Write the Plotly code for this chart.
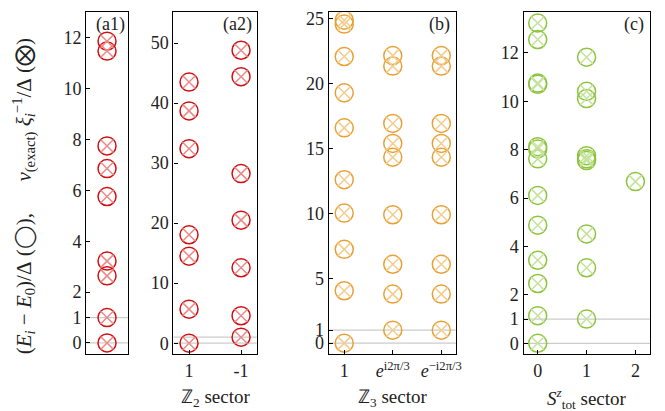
import plotly.graph_objects as go

# ---- data ----
a1_values = [0.0, 1.0, 2.64, 3.22, 5.76, 6.86, 7.75, 11.48, 11.87]

a2_sectors = ["1", "-1"]
a2_plus = [0.0, 5.67, 14.5, 18.06, 32.4, 38.7, 43.5]
a2_minus = [1.0, 4.57, 12.56, 20.5, 28.25, 44.4, 48.8]

b_sectors = ["1", "<i>e</i><sup>i2π/3</sup>", "<i>e</i><sup>−i2π/3</sup>"]
b_s0 = [0.0, 4.04, 7.23, 10.03, 12.6, 16.6, 19.3, 22.1, 24.6, 24.9]
b_s1 = [1.0, 3.78, 6.08, 9.9, 14.34, 15.4, 16.94, 21.36, 22.17]
b_s2 = [1.0, 3.78, 6.08, 9.9, 14.34, 15.4, 16.94, 21.36, 22.17]

c_sectors = ["0", "1", "2"]
c_s0 = [0.0, 1.14, 2.47, 3.43, 4.88, 6.11, 7.62, 8.03, 8.12, 10.7, 10.75, 12.55, 13.23]
c_s1 = [1.0, 3.12, 4.52, 7.55, 7.62, 7.75, 10.11, 10.41, 11.82]
c_s2 = [6.68]

RED, RED_L = "#d01010", "#ec8a8a"
ORA, ORA_L = "#e8a035", "#f3cd8c"
GRN, GRN_L = "#8cc43c", "#c4e39a"

FONT = "Liberation Serif"
W, H = 665, 411

def px_x(a, b):
    return [a / W, b / W]

YDOM = [1 - 354 / H, 1 - 9.5 / H]

fig = go.Figure()

def add_points(xaxis, yaxis, xs, ys, edge, light):
    fig.add_trace(go.Scatter(x=xs, y=ys, mode="markers", xaxis=xaxis, yaxis=yaxis,
                             marker=dict(symbol="circle-open", size=18, color=edge,
                                         line=dict(width=1.5, color=edge)),
                             showlegend=False, hoverinfo="skip"))
    fig.add_trace(go.Scatter(x=xs, y=ys, mode="markers", xaxis=xaxis, yaxis=yaxis,
                             marker=dict(symbol="x-thin-open", size=13, color=light,
                                         line=dict(width=1.5, color=light)),
                             showlegend=False, hoverinfo="skip"))

add_points("x", "y", [0] * len(a1_values), a1_values, RED, RED_L)
add_points("x2", "y2", [0] * len(a2_plus) + [1] * len(a2_minus), a2_plus + a2_minus, RED, RED_L)
add_points("x3", "y3", [0] * len(b_s0) + [1] * len(b_s1) + [2] * len(b_s2), b_s0 + b_s1 + b_s2, ORA, ORA_L)
add_points("x4", "y4", [0] * len(c_s0) + [1] * len(c_s1) + [2] * len(c_s2), c_s0 + c_s1 + c_s2, GRN, GRN_L)

tickfont = dict(family=FONT, size=18, color="#222")
common_axis = dict(showline=True, linecolor="black", linewidth=1.2, mirror=True,
                   showgrid=False, zeroline=False, ticks="inside", ticklen=4,
                   tickcolor="black", tickfont=tickfont)

doms = [px_x(87, 129), px_x(175, 259), px_x(331.7, 460), px_x(528.3, 656)]
xranges = [[-0.5, 0.5], [-0.3, 1.3], [-0.32, 2.3], [-0.29, 2.3]]
yranges = [[-0.45, 13.0], [-1.87, 55.1], [-0.87, 25.5], [-0.46, 13.67]]
yticks = [[0, 1, 2, 4, 6, 8, 10, 12], [0, 10, 20, 30, 40, 50],
          [0, 1, 5, 10, 15, 20, 25], [0, 1, 2, 4, 6, 8, 10, 12]]
xtickvals = [[], [0, 1], [0, 1, 2], [0, 1, 2]]
xticktext = [[], a2_sectors, b_sectors, c_sectors]

layout = {}
for i in range(4):
    xs = "xaxis" if i == 0 else f"xaxis{i+1}"
    ys = "yaxis" if i == 0 else f"yaxis{i+1}"
    yid = "y" if i == 0 else f"y{i+1}"
    xid = "x" if i == 0 else f"x{i+1}"
    xa = dict(common_axis, domain=doms[i], range=xranges[i], anchor=yid)
    if xtickvals[i]:
        xa.update(tickvals=xtickvals[i], ticktext=xticktext[i])
    else:
        xa.update(showticklabels=False, ticks="")
    layout[xs] = xa
    layout[ys] = dict(common_axis, domain=YDOM, range=yranges[i], anchor=xid,
                      tickvals=yticks[i], ticktext=[str(v) for v in yticks[i]])
fig.update_layout(**layout)

for i in range(4):
    xref = "x domain" if i == 0 else f"x{i+1} domain"
    yref = "y" if i == 0 else f"y{i+1}"
    for yv in (0, 1):
        fig.add_shape(type="line", xref=xref, yref=yref, x0=0, x1=1, y0=yv, y1=yv,
                      line=dict(color="#cccccc", width=1.2), layer="below")

labels = ["(a1)", "(a2)", "(b)", "(c)"]
for i, lab in enumerate(labels):
    xref = "x domain" if i == 0 else f"x{i+1} domain"
    yref = "y domain" if i == 0 else f"y{i+1} domain"
    fig.add_annotation(text=lab, xref=xref, yref=yref, x=0.97, y=1.0,
                       xanchor="right", yanchor="top", showarrow=False,
                       font=dict(family=FONT, size=18, color="#222"))

xtitles = ["ℤ<sub>2</sub> sector", "ℤ<sub>3</sub> sector",
           "<i>S</i><sup><i>z</i></sup><sub>tot</sub> sector"]
centers = [217, 396, 592]
for t, c in zip(xtitles, centers):
    fig.add_annotation(text=t, xref="paper", yref="paper", x=c / W, y=1 - 398 / H,
                       xanchor="center", yanchor="middle", showarrow=False,
                       font=dict(family=FONT, size=19, color="#222"))

NB = "\u00a0"
fig.add_annotation(text="(<i>E<sub>i</sub></i> − <i>E</i><sub>0</sub>)/Δ" + NB + "(◯)," + NB * 6 +
                        "<i>v</i><sub>(exact)</sub>" + NB + "<i>ξ</i><sub><i>i</i></sub><sup>−1</sup>/Δ" + NB + "(⨂)",
                   xref="paper", yref="paper", x=24 / W, y=1 - 195 / H, textangle=-90,
                   xanchor="center", yanchor="middle", showarrow=False,
                   font=dict(family=FONT, size=21, color="#222"))

fig.update_layout(width=W, height=H, margin=dict(l=0, r=0, t=0, b=0),
                  plot_bgcolor="white", paper_bgcolor="white")

fig.write_html("out.html", config={"displayModeBar": False},
               post_script="document.body.style.margin='0';document.body.style.padding='0';")
